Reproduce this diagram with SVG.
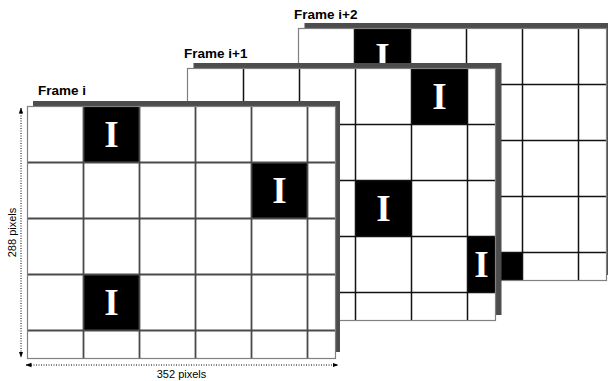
<svg xmlns="http://www.w3.org/2000/svg" width="608" height="381" viewBox="0 0 608 381">
<style>
.shadow{fill:#4d4d4d}
.bg{fill:#fff}
.blk{fill:#000}
.ln{stroke:#111;stroke-width:1.5;fill:none}
.ln0{stroke:#4a4a4a;stroke-width:1.8;fill:none}
.border{stroke:#808080;stroke-width:1.2;fill:none}
.I{font-family:"Liberation Serif","Times New Roman",serif;font-size:37px;font-weight:bold;fill:#fff;text-anchor:middle}
.lbl{font-family:"Liberation Sans",Arial,sans-serif;font-size:13.5px;font-weight:bold;fill:#000}
.dim{font-family:"Liberation Sans",Arial,sans-serif;font-size:11px;fill:#000;text-anchor:middle}
.dot{stroke:#000;stroke-width:1;stroke-dasharray:1 1.5;fill:none}
</style>
<defs>
<g id="gridlines">
<path d="M56 0V252M112 0V252M168 0V252M224 0V252M280 0V252M0 56H308M0 112H308M0 168H308M0 224H308"/>
</g>
<marker id="ah" viewBox="0 0 6 6" refX="5.5" refY="3" markerWidth="6" markerHeight="6" orient="auto-start-reverse" markerUnits="userSpaceOnUse">
<path d="M0 0.8L6 3L0 5.2Z" fill="#000"/>
</marker>
</defs>

<g id="frame-i2" transform="translate(298.5,28.5)">
<rect class="shadow" x="6" y="-5.5" width="308" height="252"/>
<rect class="bg" x="0" y="0" width="308" height="252"/>
<rect class="blk" x="56" y="0" width="56" height="56"/>
<text class="I" x="84" y="40.5">I</text>
<rect class="blk" x="168" y="224" width="56" height="28"/>
<use href="#gridlines" class="ln"/>
<rect class="border" x="0" y="0" width="308" height="252"/>
<text class="lbl" x="-4.5" y="-10">Frame i+2</text>
</g>

<g id="frame-i1" transform="translate(187.5,68.5)">
<rect class="shadow" x="6" y="-5.5" width="308" height="252"/>
<rect class="bg" x="0" y="0" width="308" height="252"/>
<rect class="blk" x="224" y="0" width="56" height="56"/>
<text class="I" x="252" y="40.5">I</text>
<rect class="blk" x="168" y="112" width="56" height="56"/>
<text class="I" x="196" y="152.5">I</text>
<rect class="blk" x="280" y="168" width="28" height="56"/>
<text class="I" x="294" y="208.5">I</text>
<use href="#gridlines" class="ln"/>
<rect class="border" x="0" y="0" width="308" height="252"/>
<text class="lbl" x="-3.5" y="-10.5">Frame i+1</text>
</g>

<g id="frame-i" transform="translate(27.5,106.5)">
<rect class="shadow" x="5.5" y="-5.5" width="307" height="251"/>
<rect class="bg" x="0" y="0" width="308" height="252"/>
<rect class="blk" x="56" y="0" width="56" height="56"/>
<text class="I" x="84" y="40.5">I</text>
<rect class="blk" x="224" y="56" width="56" height="56"/>
<text class="I" x="252" y="96.5">I</text>
<rect class="blk" x="56" y="168" width="56" height="56"/>
<text class="I" x="84" y="208.5">I</text>
<use href="#gridlines" class="ln0"/>
<rect class="border" x="0" y="0" width="308" height="252"/>
<text class="lbl" x="10.5" y="-12">Frame i</text>
</g>

<g id="connectors">
<line class="dot" x1="21" y1="108" x2="21" y2="357" marker-start="url(#ah)" marker-end="url(#ah)"/>
<line class="dot" x1="26" y1="365" x2="338" y2="365" marker-start="url(#ah)" marker-end="url(#ah)"/>
</g>

<g id="dims">
<text class="dim" transform="translate(16,232.5) rotate(-90)">288 pixels</text>
<text class="dim" x="181.5" y="378">352 pixels</text>
</g>
</svg>
